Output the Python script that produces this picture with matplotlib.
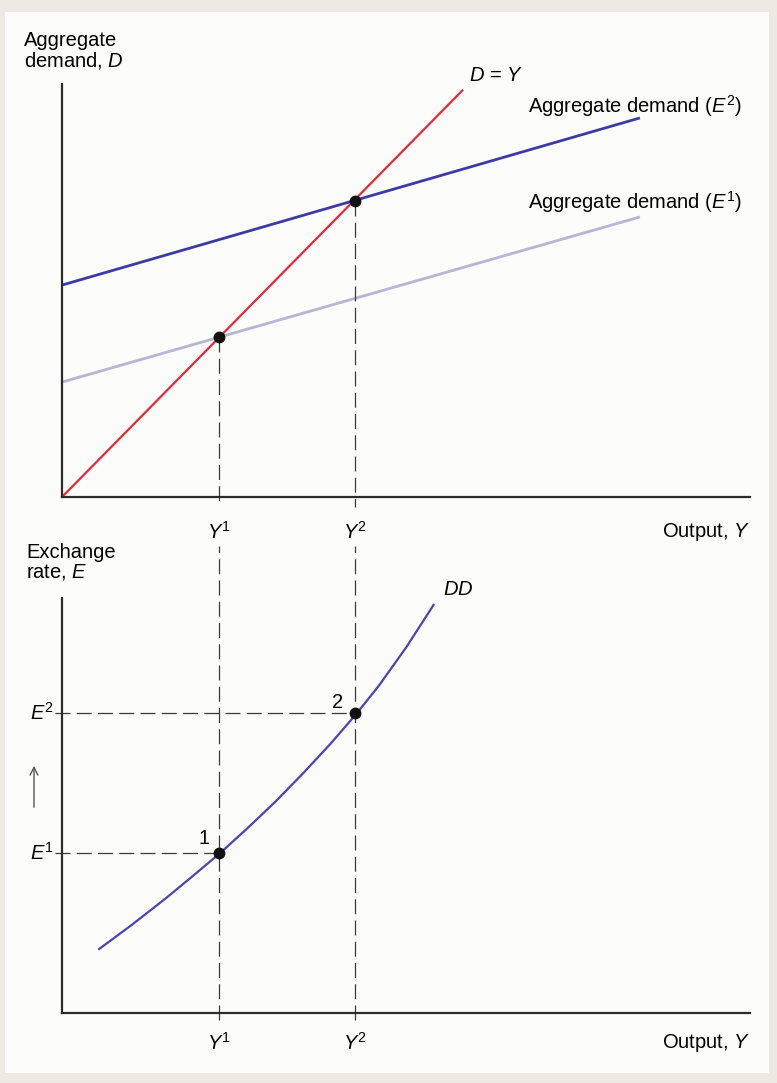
import matplotlib
matplotlib.use("Agg")
import matplotlib.pyplot as plt
from matplotlib.patches import Rectangle

plt.rcParams['font.family'] = ['Liberation Sans', 'DejaVu Sans']
plt.rcParams['mathtext.fontset'] = 'custom'
plt.rcParams['mathtext.rm'] = 'Liberation Sans'
plt.rcParams['mathtext.it'] = 'Liberation Sans:italic'

# data (abstract units)
dy_x = [0, 58.3]
dy_y = [0, 59.2]
ad1_x = [0, 84.0]
ad1_y = [16.7, 40.7]
ad2_x = [0, 84.0]
ad2_y = [30.8, 55.1]
eq_y = [22.8, 42.6]
eq_d = [23.2, 43.0]

dd_x = [5.4, 10.0, 15.0, 19.0, 23.1, 27.0, 31.0, 35.0, 39.0, 42.8, 46.0, 50.0, 54.0]
dd_e = [9.3, 12.7, 16.6, 19.9, 23.35, 26.9, 30.7, 34.8, 39.1, 43.5, 47.5, 53.1, 59.3]
eq_e = [23.3, 43.6]

W, H = 777, 1083
fig = plt.figure(figsize=(W / 100, H / 100), dpi=100, facecolor='#eee9e2')
fig.patches.append(Rectangle((5 / W, 1 - 1073 / H), 764 / W, 1061 / H,
                             transform=fig.transFigure, facecolor='#fcfcfa',
                             edgecolor='none', zorder=-10))

scale = 6.88  # px per unit
ax1 = fig.add_axes([62 / W, (H - 497) / H, 100 * scale / W, 60 * scale / H])
ax2 = fig.add_axes([62 / W, (H - 1013) / H, 100 * scale / W, 60.3 * scale / H])

axis_col = '#2b2b2b'
dash_col = '#3a3a3a'
dash = (0, (12, 5))
fs = 14.5

for ax, top in ((ax1, 60), (ax2, 60.3)):
    ax.set_xlim(0, 100)
    ax.set_ylim(0, top)
    ax.patch.set_alpha(0)
    for s in ('top', 'right'):
        ax.spines[s].set_visible(False)
    for s in ('left', 'bottom'):
        ax.spines[s].set_linewidth(1.6)
        ax.spines[s].set_color(axis_col)
    ax.set_xticks([])
    ax.set_yticks([])

# top panel
ax1.plot(ad1_x, ad1_y, color='#b6b6d2', lw=2.0, solid_capstyle='butt')
ax1.plot(ad2_x, ad2_y, color='#3b3ba6', lw=2.0, solid_capstyle='butt')
ax1.plot(dy_x, dy_y, color='#e8283a', lw=1.6, solid_capstyle='butt')
for x, d in zip(eq_y, eq_d):
    ax1.plot([x, x], [d, -1.4], color=dash_col, lw=0.9, ls=dash, clip_on=False)
ax1.plot(eq_y, eq_d, 'o', color='#111111', ms=7.5, zorder=5)

ax1.text(63.1, 61.3, '$D$ = $Y$', fontsize=fs, ha='center', va='center')
ax1.text(67.7, 56.8, 'Aggregate demand ($E^2$)', fontsize=fs, va='center')
ax1.text(67.7, 42.9, 'Aggregate demand ($E^1$)', fontsize=fs, va='center')
for x, lab in zip(eq_y, ['$Y^1$', '$Y^2$']):
    ax1.text(x, -5.1, lab, fontsize=fs, ha='center', va='center')
ax1.text(100, -5.1, 'Output, $Y$', fontsize=fs, ha='right', va='center')

# bottom panel
ax2.plot(dd_x, dd_e, color='#4846b2', lw=1.6, solid_joinstyle='round')
for x, e in zip(eq_y, eq_e):
    ax2.plot([x, x], [-1.0, 67.9], color=dash_col, lw=0.9, ls=dash, clip_on=False)
    ax2.plot([-1.0, x], [e, e], color=dash_col, lw=0.9, ls=dash, clip_on=False)
ax2.plot(eq_y, eq_e, 'o', color='#111111', ms=7.5, zorder=5)

ax2.text(20.6, 25.4, '1', fontsize=fs, ha='center', va='center')
ax2.text(40.1, 45.2, '2', fontsize=fs, ha='center', va='center')
ax2.text(57.6, 61.6, '$DD$', fontsize=fs, ha='center', va='center')
for e, lab in zip(eq_e, ['$E^1$', '$E^2$']):
    ax2.text(-1.2, e, lab, fontsize=fs, ha='right', va='center')
for x, lab in zip(eq_y, ['$Y^1$', '$Y^2$']):
    ax2.text(x, -4.4, lab, fontsize=fs, ha='center', va='center')
ax2.text(100, -4.4, 'Output, $Y$', fontsize=fs, ha='right', va='center')

ax2.annotate('', xy=(34 / W, 1 - 763 / H), xytext=(34 / W, 1 - 810 / H),
             xycoords='figure fraction', textcoords='figure fraction',
             arrowprops=dict(arrowstyle='->', color='#555555', lw=1.0,
                             mutation_scale=14))

fig.text(24 / W, 1 - 51 / H, 'Aggregate\ndemand, $D$', fontsize=fs,
         ha='left', va='center', linespacing=1.0)
fig.text(26 / W, 1 - 563 / H, 'Exchange\nrate, $E$', fontsize=fs,
         ha='left', va='center', linespacing=1.0)

fig.savefig('out.png', dpi=100, facecolor=fig.get_facecolor())
